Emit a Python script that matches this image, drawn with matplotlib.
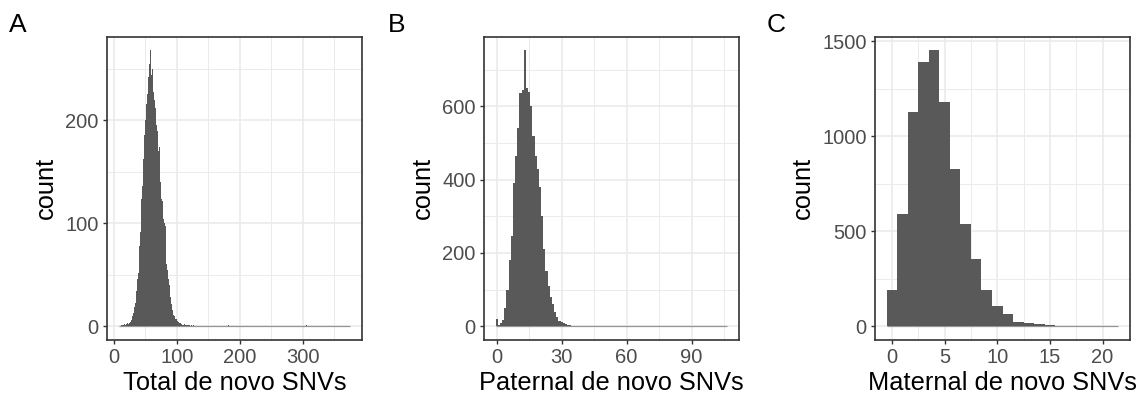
import numpy as np
import matplotlib.pyplot as plt

plt.rcParams['font.family'] = ['Liberation Sans', 'DejaVu Sans']

# counts per integer value (binwidth = 1)
# panel A: Total de novo SNVs, contiguous from total_start
total_start = 8
total_counts = [1, 0, 1, 0, 1, 0, 1, 1, 0, 2, 1, 0, 2, 1, 3, 2, 2, 3, 4, 5,      # 8-27
                6, 8, 10, 13, 16, 19, 23, 28, 34, 41, 46, 52, 62, 78, 92, 104,    # 28-43
                124, 136, 150, 163, 170, 186, 200, 210, 216, 226, 232, 242,       # 44-55
                248, 255, 268, 238, 244, 250, 252, 228, 236, 220, 212, 208,       # 56-67
                196, 190, 184, 170, 174, 158, 140, 136, 124, 122, 112, 104,       # 68-79
                100, 92, 97, 80, 60, 55, 50, 46, 40, 35, 28, 22, 19, 16, 13,      # 80-94
                11, 10, 9, 7, 7, 6, 5, 5, 4, 3, 3, 3, 2, 2, 1, 2, 1, 2, 0,        # 95-113
                1, 1, 0, 1, 1, 0, 1, 0, 0, 1, 0, 0, 1, 0, 0, 1, 0, 0, 1]          # 114-132
total_outliers = [182, 306, 375]
total_outlier_counts = [1, 1, 1]

# panel B: Paternal de novo SNVs, contiguous from 0
paternal_start = 0
paternal_counts = [21, 3, 10, 16, 50, 100, 180, 245, 390, 465, 540, 635, 645,
                   752, 650, 640, 600, 520, 465, 430, 380, 300, 210, 150, 110,
                   80, 60, 40, 25, 15, 12, 10, 5, 3, 2, 1]
paternal_outliers = [106]
paternal_outlier_counts = [1]

# panel C: Maternal de novo SNVs, contiguous from 0
maternal_start = 0
maternal_counts = [193, 589, 1125, 1388, 1451, 1181, 828, 539, 354, 193, 105,
                   63, 23, 18, 12, 5, 3, 2, 1, 1, 1, 1]

panels = [
    ("A", "Total de novo SNVs", total_start, total_counts, total_outliers, total_outlier_counts,
     [0, 100, 200, 300], [50, 150, 250, 350], [0, 100, 200], [50, 150, 250]),
    ("B", "Paternal de novo SNVs", paternal_start, paternal_counts, paternal_outliers,
     paternal_outlier_counts, [0, 30, 60, 90], [15, 45, 75, 105], [0, 200, 400, 600],
     [100, 300, 500, 700]),
    ("C", "Maternal de novo SNVs", maternal_start, maternal_counts, [], [],
     [0, 5, 10, 15, 20], [2.5, 7.5, 12.5, 17.5], [0, 500, 1000, 1500], [250, 750, 1250]),
]

W, H = 1145, 408
fig = plt.figure(figsize=(W / 100, H / 100), dpi=100)

ax_left = [107, 484, 875]
ax_width = 255
ax_top, ax_bottom = 36.7, 340
letter_x = [9, 388, 767]

bar_col = '#595959'
grid_col = '#EBEBEB'

for i, (tag, xlab, start, counts, out_v, out_c, xt, xm, yt, ym) in enumerate(panels):
    ax = fig.add_axes([ax_left[i] / W, (H - ax_bottom) / H, ax_width / W, (ax_bottom - ax_top) / H])

    vals = np.concatenate([np.arange(start, start + len(counts)), np.array(out_v, dtype=int)])
    cnts = np.concatenate([np.array(counts, dtype=float), np.array(out_c, dtype=float)])
    lo, hi = vals.min(), vals.max()
    full = np.zeros(hi - lo + 1)
    full[vals - lo] = cnts
    edges = np.arange(lo - 0.5, hi + 1.0, 1.0)

    ax.stairs(full, edges, fill=True, color=bar_col, lw=0, zorder=3)
    ax.hlines(0, edges[0], edges[-1], color=bar_col, lw=0.9, alpha=0.6, zorder=3)

    xpad = 0.05 * (edges[-1] - edges[0])
    ax.set_xlim(edges[0] - xpad, edges[-1] + xpad)
    ymax = full.max()
    ax.set_ylim(-0.05 * ymax, 1.05 * ymax)

    ax.set_xticks(xt)
    ax.set_xticks(xm, minor=True)
    ax.set_yticks(yt)
    ax.set_yticks(ym, minor=True)
    ax.set_axisbelow(True)
    ax.grid(which='major', color=grid_col, lw=1.2)
    ax.grid(which='minor', color=grid_col, lw=0.7)
    ax.tick_params(which='major', length=3, width=1.0, color='#333333',
                   labelsize=14.5, labelcolor='#4D4D4D', pad=3)
    ax.tick_params(which='minor', length=0)
    for s in ax.spines.values():
        s.set_color('#333333')
        s.set_linewidth(1.2)

    ax.set_xlabel(xlab, fontsize=18.3, labelpad=3)
    ax.set_ylabel("count", fontsize=18.3, labelpad=5)

    fig.text(letter_x[i] / W, 1 - 32 / H, tag, fontsize=19, va='baseline', ha='left')

fig.savefig("out.png", dpi=100)
